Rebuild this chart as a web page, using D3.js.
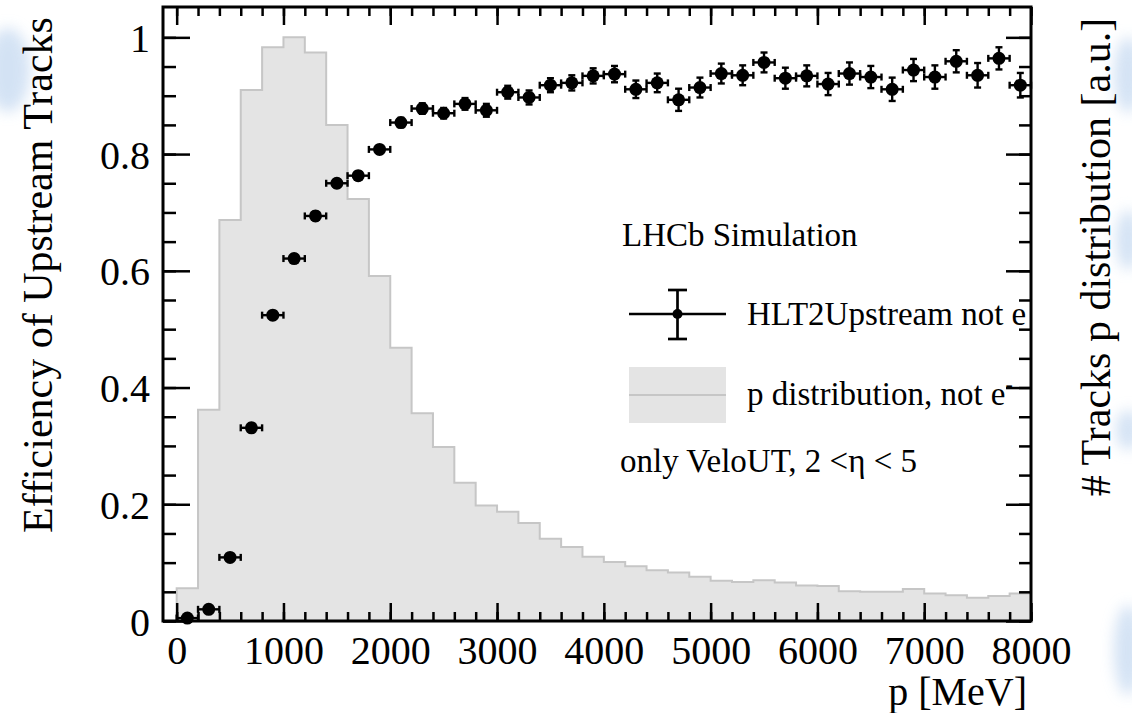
<!DOCTYPE html>
<html>
<head>
<meta charset="utf-8">
<script src="https://cdn.jsdelivr.net/npm/d3@7"></script>
<style>
  html, body { margin: 0; padding: 0; background: #ffffff; }
  svg { display: block; }
  text { font-family: "Liberation Serif", "Times New Roman", serif; fill: #000; }
</style>
</head>
<body>
<svg id="chart" width="1132" height="713"></svg>
<script>
// ---- data -------------------------------------------------------------
// momentum bin centres [MeV], bins are 200 MeV wide
const binCenters = [100, 300, 500, 700, 900, 1100, 1300, 1500, 1700, 1900,
                    2100, 2300, 2500, 2700, 2900, 3100, 3300, 3500, 3700, 3900,
                    4100, 4300, 4500, 4700, 4900, 5100, 5300, 5500, 5700, 5900,
                    6100, 6300, 6500, 6700, 6900, 7100, 7300, 7500, 7700, 7900];
const binWidth = 200;

// efficiency of upstream tracks per bin
const efficiency = [0.005, 0.020, 0.109, 0.331, 0.524, 0.621, 0.694, 0.750, 0.763, 0.808,
                    0.854, 0.878, 0.870, 0.886, 0.875, 0.906, 0.897, 0.918, 0.922, 0.934,
                    0.937, 0.911, 0.922, 0.893, 0.914, 0.938, 0.935, 0.957, 0.930, 0.934,
                    0.920, 0.938, 0.932, 0.911, 0.944, 0.932, 0.959, 0.935, 0.964, 0.918];

// statistical uncertainty on the efficiency
const efficiencyErr = [0.003, 0.004, 0.006, 0.007, 0.007, 0.007, 0.007, 0.007, 0.007, 0.007,
                       0.008, 0.009, 0.009, 0.010, 0.011, 0.011, 0.012, 0.012, 0.013, 0.013,
                       0.014, 0.015, 0.016, 0.019, 0.017, 0.017, 0.017, 0.017, 0.018, 0.018,
                       0.019, 0.019, 0.019, 0.020, 0.019, 0.020, 0.019, 0.021, 0.019, 0.021];

// normalised momentum distribution of the tracks (peak = 1)
const pDistribution = [0.056, 0.362, 0.687, 0.910, 0.983, 1.000, 0.974, 0.850, 0.723, 0.591,
                       0.468, 0.356, 0.298, 0.237, 0.198, 0.187, 0.168, 0.141, 0.127, 0.110,
                       0.101, 0.094, 0.087, 0.083, 0.076, 0.069, 0.067, 0.070, 0.066, 0.061,
                       0.060, 0.051, 0.050, 0.050, 0.055, 0.047, 0.044, 0.040, 0.043, 0.047];

const xTickValues = [0, 1000, 2000, 3000, 4000, 5000, 6000, 7000, 8000];
const xMinorTicks = [0, 200, 400, 600, 800, 1000, 1200, 1400, 1600, 1800, 2000, 2200, 2400,
                     2600, 2800, 3000, 3200, 3400, 3600, 3800, 4000, 4200, 4400, 4600, 4800,
                     5000, 5200, 5400, 5600, 5800, 6000, 6200, 6400, 6600, 6800, 7000, 7200,
                     7400, 7600, 7800, 8000];
const yTickValues = [0, 0.2, 0.4, 0.6, 0.8, 1];
const yTickLabels = ["0", "0.2", "0.4", "0.6", "0.8", "1"];
const yMinorTicks = [0, 0.05, 0.1, 0.15, 0.2, 0.25, 0.3, 0.35, 0.4, 0.45, 0.5, 0.55, 0.6,
                     0.65, 0.7, 0.75, 0.8, 0.85, 0.9, 0.95, 1.0];

// ---- layout -----------------------------------------------------------
const svg = d3.select("#chart");
const frame = { left: 163, right: 1031, top: 7, bottom: 621 };

const x = d3.scaleLinear().domain([-128, 8000]).range([frame.left, frame.right]);
const y = d3.scaleLinear().domain([0, 1.052]).range([frame.bottom, frame.top]);

const histFill = "#e4e4e4";
const histLine = "#c6c6c6";

// soft bluish background blotches at the page edges
const defs = svg.append("defs");
defs.append("filter").attr("id", "soft")
  .attr("x", "-50%").attr("y", "-50%").attr("width", "200%").attr("height", "200%")
  .append("feGaussianBlur").attr("stdDeviation", 7);
const blotches = [
  { cx: 8,    cy: 70,  rx: 22, ry: 42 },
  { cx: 1128, cy: 75,  rx: 14, ry: 38 },
  { cx: 1128, cy: 240, rx: 12, ry: 30 },
  { cx: 1128, cy: 430, rx: 12, ry: 20 },
  { cx: 1128, cy: 650, rx: 14, ry: 45 }
];
svg.append("g").selectAll("ellipse").data(blotches).join("ellipse")
  .attr("cx", d => d.cx).attr("cy", d => d.cy)
  .attr("rx", d => d.rx).attr("ry", d => d.ry)
  .attr("fill", "#c9dcf2").attr("opacity", 0.8)
  .attr("filter", "url(#soft)");

// ---- histogram of the p distribution ---------------------------------
const stepPts = [[binCenters[0] - binWidth / 2, 0]];
binCenters.forEach((c, i) => {
  stepPts.push([c - binWidth / 2, pDistribution[i]]);
  stepPts.push([c + binWidth / 2, pDistribution[i]]);
});
stepPts.push([binCenters[binCenters.length - 1] + binWidth / 2, 0]);

const area = d3.area().x(d => x(d[0])).y0(y(0)).y1(d => y(d[1]));
const line = d3.line().x(d => x(d[0])).y(d => y(d[1]));

svg.append("path").datum(stepPts).attr("d", area).attr("fill", histFill);
svg.append("path").datum(stepPts).attr("d", line)
  .attr("fill", "none").attr("stroke", histLine).attr("stroke-width", 2);

// ---- efficiency points with error bars --------------------------------
const pts = binCenters.map((c, i) => ({ p: c, e: efficiency[i], err: efficiencyErr[i] }));
const cap = 3.5;
const gPts = svg.append("g").attr("stroke", "#000").attr("stroke-width", 2.4);
const ptG = gPts.selectAll("g").data(pts).join("g");
ptG.append("line")
  .attr("x1", d => x(d.p - binWidth / 2)).attr("x2", d => x(d.p + binWidth / 2))
  .attr("y1", d => y(d.e)).attr("y2", d => y(d.e));
ptG.append("line")
  .attr("x1", d => x(d.p - binWidth / 2)).attr("x2", d => x(d.p - binWidth / 2))
  .attr("y1", d => y(d.e) - cap).attr("y2", d => y(d.e) + cap);
ptG.append("line")
  .attr("x1", d => x(d.p + binWidth / 2)).attr("x2", d => x(d.p + binWidth / 2))
  .attr("y1", d => y(d.e) - cap).attr("y2", d => y(d.e) + cap);
ptG.append("line")
  .attr("x1", d => x(d.p)).attr("x2", d => x(d.p))
  .attr("y1", d => y(d.e + d.err)).attr("y2", d => y(d.e - d.err));
ptG.append("line")
  .attr("x1", d => x(d.p) - cap).attr("x2", d => x(d.p) + cap)
  .attr("y1", d => y(d.e + d.err)).attr("y2", d => y(d.e + d.err));
ptG.append("line")
  .attr("x1", d => x(d.p) - cap).attr("x2", d => x(d.p) + cap)
  .attr("y1", d => y(d.e - d.err)).attr("y2", d => y(d.e - d.err));
ptG.append("circle")
  .attr("cx", d => x(d.p)).attr("cy", d => y(d.e)).attr("r", 6.5)
  .attr("fill", "#000").attr("stroke", "none");

// ---- axes (ticks pointing inwards) ------------------------------------
function styleAxis(g) {
  g.select(".domain").remove();
  g.selectAll(".tick line").attr("stroke", "#000").attr("stroke-width", 2.5);
  g.selectAll("text").attr("font-family", "Liberation Serif").attr("font-size", 40).attr("fill", "#000");
}

// bottom
svg.append("g").attr("transform", `translate(0,${frame.bottom})`)
  .call(d3.axisBottom(x).tickValues(xMinorTicks).tickSize(-9).tickFormat(""))
  .call(styleAxis);
svg.append("g").attr("transform", `translate(0,${frame.bottom})`)
  .call(d3.axisBottom(x).tickValues(xTickValues).tickSize(-18).tickPadding(15)
        .tickFormat(d3.format("d")))
  .call(styleAxis);
// top
svg.append("g").attr("transform", `translate(0,${frame.top})`)
  .call(d3.axisTop(x).tickValues(xMinorTicks).tickSize(-9).tickFormat(""))
  .call(styleAxis);
svg.append("g").attr("transform", `translate(0,${frame.top})`)
  .call(d3.axisTop(x).tickValues(xTickValues).tickSize(-18).tickFormat(""))
  .call(styleAxis);
// left
svg.append("g").attr("transform", `translate(${frame.left},0)`)
  .call(d3.axisLeft(y).tickValues(yMinorTicks).tickSize(-13).tickFormat(""))
  .call(styleAxis);
svg.append("g").attr("transform", `translate(${frame.left},0)`)
  .call(d3.axisLeft(y).tickValues(yTickValues).tickSize(-27).tickPadding(13)
        .tickFormat((d, i) => yTickLabels[i]))
  .call(styleAxis)
  .call(g => g.selectAll("text").attr("dy", "0.35em"));
// right (secondary axis for the p distribution, unlabelled)
svg.append("g").attr("transform", `translate(${frame.right},0)`)
  .call(d3.axisRight(y).tickValues(yMinorTicks).tickSize(-12).tickFormat(""))
  .call(styleAxis);
svg.append("g").attr("transform", `translate(${frame.right},0)`)
  .call(d3.axisRight(y).tickValues(yTickValues).tickSize(-25).tickFormat(""))
  .call(styleAxis);

// frame
svg.append("rect")
  .attr("x", frame.left).attr("y", frame.top)
  .attr("width", frame.right - frame.left).attr("height", frame.bottom - frame.top)
  .attr("fill", "none").attr("stroke", "#000").attr("stroke-width", 3);

// ---- axis titles --------------------------------------------------------
svg.append("text")
  .attr("x", 1027).attr("y", 705).attr("text-anchor", "end")
  .attr("font-size", 40).text("p [MeV]");

svg.append("text")
  .attr("transform", "translate(52,275) rotate(-90)")
  .attr("text-anchor", "middle").attr("font-size", 42)
  .text("Efficiency of Upstream Tracks");

svg.append("text")
  .attr("transform", "translate(1110,257) rotate(-90)")
  .attr("text-anchor", "middle").attr("font-size", 42)
  .text("# Tracks p distribution [a.u.]");

// ---- legend -------------------------------------------------------------
const leg = svg.append("g");
leg.append("text").attr("x", 622).attr("y", 246).attr("font-size", 33).text("LHCb Simulation");

// entry: efficiency marker
const lx0 = 629, lx1 = 726, lxc = 677.5, ly = 314;
const legMark = leg.append("g").attr("stroke", "#000").attr("stroke-width", 2.7);
legMark.append("line").attr("x1", lx0).attr("x2", lx1).attr("y1", ly).attr("y2", ly);
legMark.append("line").attr("x1", lxc).attr("x2", lxc).attr("y1", 290).attr("y2", 339);
legMark.append("line").attr("x1", lxc - 9.5).attr("x2", lxc + 9.5).attr("y1", 290).attr("y2", 290);
legMark.append("line").attr("x1", lxc - 9.5).attr("x2", lxc + 9.5).attr("y1", 339).attr("y2", 339);
leg.append("circle").attr("cx", lxc).attr("cy", ly).attr("r", 5).attr("fill", "#000");
leg.append("text").attr("x", 747).attr("y", 325).attr("font-size", 33).text("HLT2Upstream not e");

// entry: p distribution
leg.append("rect").attr("x", lx0).attr("y", 367).attr("width", lx1 - lx0).attr("height", 56)
  .attr("fill", histFill);
leg.append("line").attr("x1", lx0).attr("x2", lx1).attr("y1", 395).attr("y2", 395)
  .attr("stroke", histLine).attr("stroke-width", 2);
const t2 = leg.append("text").attr("x", 747).attr("y", 405).attr("font-size", 33);
t2.append("tspan").text("p distribution, not e");
t2.append("tspan").attr("font-size", 22).attr("dy", -14).text("-");

leg.append("text").attr("x", 620).attr("y", 472).attr("font-size", 33)
  .text("only VeloUT, 2 <η < 5");
</script>
</body>
</html>
